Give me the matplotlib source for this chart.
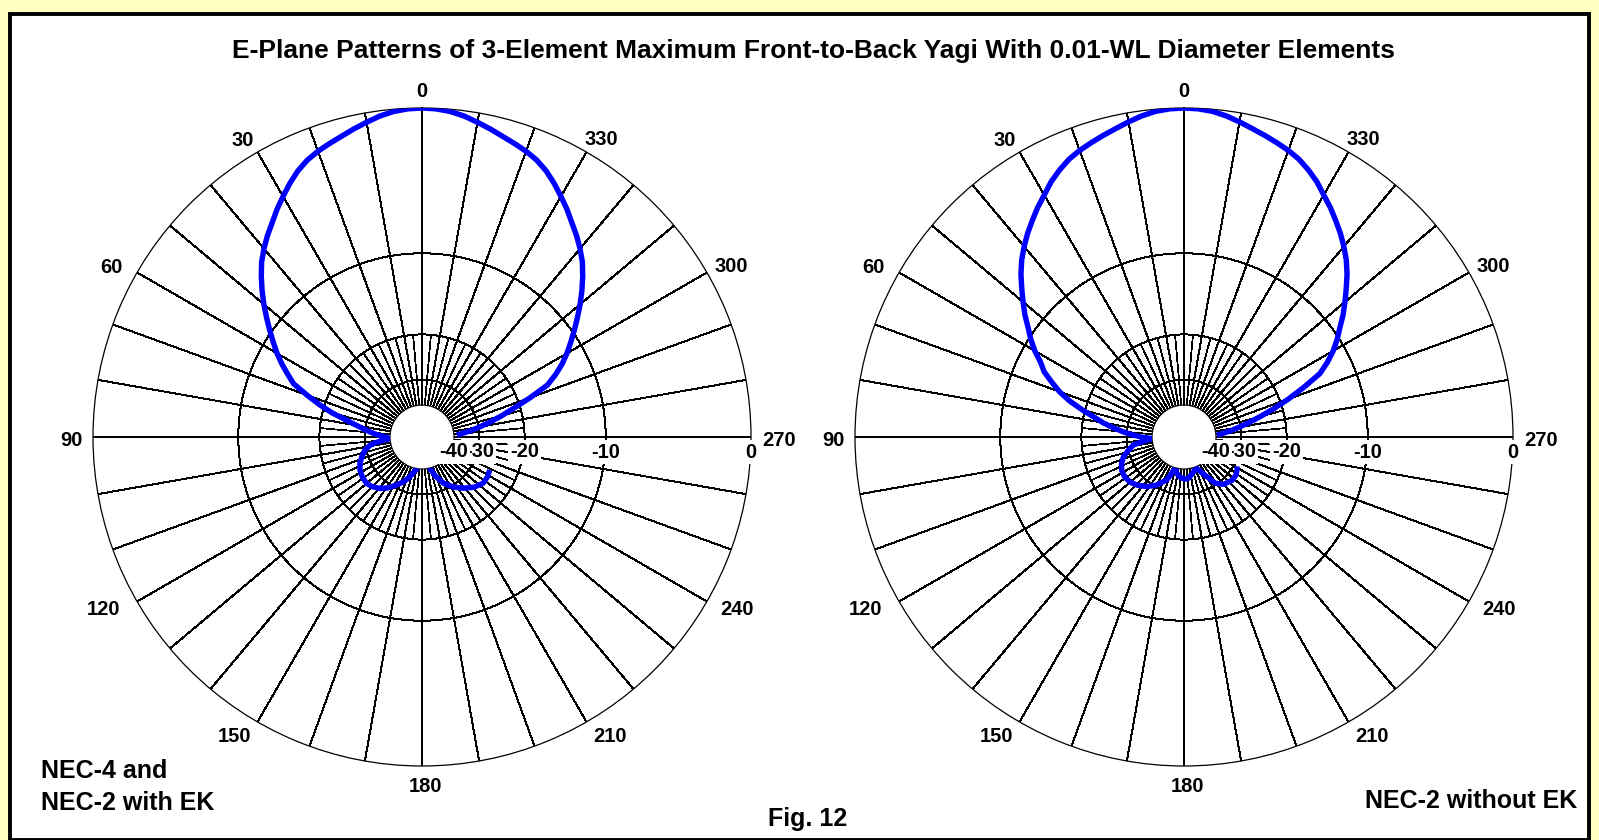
import numpy as np
import matplotlib
matplotlib.use("Agg")
import matplotlib.pyplot as plt
from matplotlib.patches import Rectangle
from matplotlib import transforms

W, H, DPI = 1599, 840, 100

plt.rcParams["font.family"] = ["Liberation Sans", "DejaVu Sans"]
plt.rcParams["font.weight"] = "bold"

TITLE = "E-Plane Patterns of 3-Element Maximum Front-to-Back Yagi With 0.01-WL Diameter Elements"

angle_ticks = [0, 30, 60, 90, 120, 150, 180, 210, 240, 270, 300, 330]
ring_db = [0, -10, -20, -30, -40]
ring_text = ["0", "-10", "-20", "-30", "-40"]

# NEC-4 and NEC-2 with EK (degrees, dB); trace starts just past 270 and runs CCW
nec4_deg = [-86.7, -85, -82.5, -80, -77.5, -75, -72.5, -70, -67.5, -65, -62.5, -60,
            -57.5, -55, -52.5, -50, -47.5, -45, -42.5, -40, -37.5, -35, -32.5, -30,
            -27.5, -25, -22.5, -20, -17.5, -15, -12.5, -10, -7.5, -5, -2.5, 0,
            2.5, 5, 7.5, 10, 12.5, 15, 17.5, 20, 22.5, 25, 27.5, 30, 32.5, 35, 37.5,
            40, 42.5, 45, 47.5, 50, 52.5, 55, 57.5, 60, 62.5, 65, 67.5, 70, 72.5, 75,
            77.5, 80, 82.5, 85, 88, 91, 93, 95, 97, 99, 103, 108, 113, 118, 124, 130,
            135, 141, 146, 152, 158, 163, 167, 171, 180, 190, 194, 199, 205, 212, 219,
            226, 233, 239, 244]
nec4_db = [-38.5, -36.0, -32.5, -29.5, -26.5, -23.7, -21.0, -18.0, -15.2, -13.8, -12.6,
           -11.6, -10.7, -9.8, -8.9, -8.0, -7.15, -6.35, -5.6, -5.0, -4.45, -3.95, -3.4,
           -2.9, -2.4, -1.95, -1.6, -1.35, -1.15, -0.95, -0.72, -0.5, -0.28, -0.12,
           -0.03, 0.0,
           -0.03, -0.12, -0.28, -0.5, -0.72, -0.95, -1.15, -1.35, -1.6, -1.95, -2.4,
           -2.9, -3.4, -3.95, -4.45, -5.0, -5.6, -6.35, -7.15, -8.0, -8.9, -9.8, -10.7,
           -11.6, -12.6, -13.7, -14.8, -17.0, -19.2, -21.7, -24.9, -27.5, -29.8, -32.1,
           -35.0, -38.5, -40.0, -36.5, -33.5, -31.5, -29.6, -28.3, -27.2, -26.5, -26.1,
           -26.0, -26.5, -27.5, -28.8, -30.9, -33.0, -35.5, -38.0, -40.0, -45.0, -45.0,
           -40.0, -35.5, -32.0, -29.5, -27.6, -26.0, -25.0, -25.0, -25.3]

# NEC-2 without EK
nec2_deg = [-86.5, -85, -82.5, -80, -77.5, -75, -72.5, -70, -67.5, -65, -62.5, -60,
            -57.5, -55, -52.5, -50, -47.5, -45, -42.5, -40, -37.5, -35, -32.5, -30,
            -27.5, -25, -22.5, -20, -17.5, -15, -12.5, -10, -7.5, -5, -2.5, 0,
            2.5, 5, 7.5, 10, 12.5, 15, 17.5, 20, 22.5, 25, 27.5, 30, 32.5, 35, 37.5,
            40, 42.5, 45, 47.5, 50, 52.5, 55, 57.5, 60, 62.5, 65, 67.5, 70, 72.5, 75,
            77.5, 80, 82.5, 85, 87.5, 90, 93, 95, 99, 104, 108, 113, 118, 124, 130,
            136, 143, 150, 158, 161, 164, 168, 172, 177, 182, 186, 192, 198, 202, 206,
            210, 214, 220, 228, 234, 238, 241]
nec2_db = [-39.5, -37.0, -33.5, -30.5, -27.5, -24.5, -21.5, -18.6, -16.0, -13.5, -12.2,
           -11.1, -10.2, -9.4, -8.5, -7.7, -6.9, -6.1, -5.4, -4.8, -4.25, -3.75, -3.25,
           -2.8, -2.3, -1.9, -1.55, -1.3, -1.1, -0.9, -0.7, -0.48, -0.27, -0.11,
           -0.03, 0.0,
           -0.03, -0.11, -0.27, -0.48, -0.7, -0.9, -1.1, -1.3, -1.55, -1.9, -2.3,
           -2.8, -3.25, -3.75, -4.25, -4.8, -5.4, -6.1, -6.9, -7.7, -8.5, -9.4, -10.2,
           -11.1, -12.2, -13.0, -14.3, -15.6, -17.3, -19.5, -21.8, -23.8, -26.2, -28.8,
           -31.5, -35.0, -40.0, -37.0, -31.9, -29.8, -28.2, -27.1, -26.4, -26.2, -26.5,
           -27.3, -28.6, -30.5, -33.6, -36.5, -40.0, -38.0, -36.5, -35.6, -35.3, -35.5,
           -37.0, -38.6, -39.1, -36.5, -33.9, -30.5, -28.7, -27.9, -28.0, -28.5, -29.0]

BLUE = "#0000ff"
YELLOW = "#ffffc0"
R_PX = 329


def arrl_fwd(db):
    # log-periodic radial scale: every 2 dB shrinks the radius by 0.89
    return 0.89 ** (-np.asarray(db, dtype=float) / 2.0)


def arrl_inv(r):
    r = np.asarray(r, dtype=float)
    with np.errstate(divide="ignore", invalid="ignore"):
        return -2.0 * np.log(r) / np.log(0.89)


def polar_chart(fig, cx, cy, deg, db):
    rect = [(cx - R_PX) / W, (H - cy - R_PX) / H, 2 * R_PX / W, 2 * R_PX / H]
    ax = fig.add_axes(rect, projection="polar")
    ax.set_theta_zero_location("N")
    ax.set_theta_direction(1)
    ax.set_rscale("function", functions=(arrl_fwd, arrl_inv))
    ax.grid(False)

    grid = dict(color="black", zorder=2, antialiased=False)
    full = np.linspace(0, 2 * np.pi, 721)
    for level in ring_db[1:4]:
        ax.plot(full, np.full_like(full, level), lw=0.7, **grid)

    # spokes: every 10 deg all the way out, extra 5 deg ones near the hub
    for a in range(0, 360, 10):
        w = 1.4 if a % 90 == 0 else 0.7
        ax.plot([np.deg2rad(a)] * 2, [-40, 0], lw=w, **grid)
    for a in range(5, 360, 10):
        ax.plot([np.deg2rad(a)] * 2, [-40, -20], lw=0.55, **grid)

    ax.plot(np.deg2rad(deg), db, color=BLUE, lw=3.9, solid_capstyle="butt",
            solid_joinstyle="round", zorder=5)

    ax.set_rlim(-40, 0)
    ax.set_rorigin(-200)
    ax.set_xticks([])
    ax.set_yticks([])
    ax.spines["polar"].set_color("black")
    ax.spines["polar"].set_linewidth(0.9)
    ax.spines["inner"].set_visible(False)

    # compass labels sit just outside the rim (radius in px, direction in deg)
    lab_px = [345, 347, 354, 351, 362, 353, 350, 353, 359, 357, 353, 347]
    lab_dir = [0, 31.2, 61.3, 90.6, 118.5, 147.9, 180.6, 212.1, 241.2, 269.4, 298.8, 328.9]
    for a, rpx, d in zip(angle_ticks, lab_px, lab_dir):
        ax.text(np.deg2rad(d), float(arrl_inv(rpx / R_PX)), str(a), ha="center",
                va="center", fontsize=14.5, fontweight="bold", clip_on=False)

    below = transforms.offset_copy(ax.transData, fig=fig, x=0, y=-15, units="dots")
    for level, txt in zip(ring_db, ring_text):
        ax.text(np.deg2rad(270), level, txt, transform=below, ha="center",
                va="center", fontsize=14.5, fontweight="bold", zorder=6,
                bbox=dict(facecolor="white", edgecolor="none", pad=1.5))
    return ax


fig = plt.figure(figsize=(W / DPI, H / DPI), dpi=DPI, facecolor=YELLOW)
fig.patches.append(Rectangle((10 / W, 0), 1579 / W, (H - 14) / H,
                             transform=fig.transFigure, facecolor="white",
                             edgecolor="black", lw=2.8, zorder=-10))

polar_chart(fig, 422, 437, nec4_deg, nec4_db)
polar_chart(fig, 1184, 437, nec2_deg, nec2_db)

fig.text(814 / W, 1 - 58 / H, TITLE, ha="center", va="baseline",
         fontsize=19, fontweight="bold")
fig.text(41 / W, 1 - 778 / H, "NEC-4 and", ha="left", va="baseline",
         fontsize=18, fontweight="bold")
fig.text(41 / W, 1 - 810 / H, "NEC-2 with EK", ha="left", va="baseline",
         fontsize=18, fontweight="bold")
fig.text(768 / W, 1 - 826 / H, "Fig. 12", ha="left", va="baseline",
         fontsize=18, fontweight="bold")
fig.text(1365 / W, 1 - 808 / H, "NEC-2 without EK", ha="left", va="baseline",
         fontsize=18, fontweight="bold")

fig.savefig("out.png", dpi=DPI, facecolor=YELLOW)
